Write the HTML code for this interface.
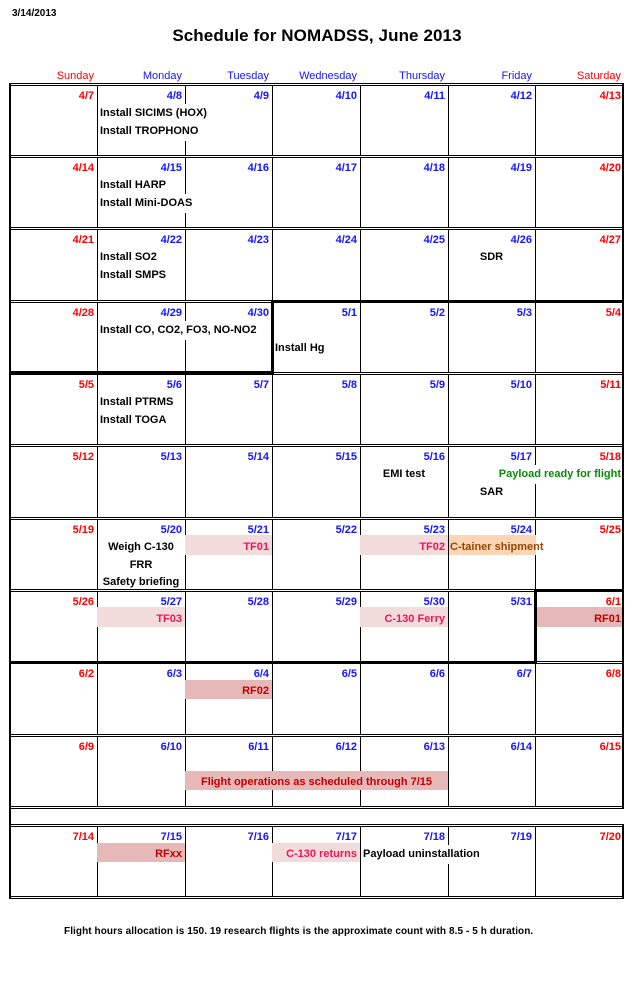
<!DOCTYPE html>
<html><head><meta charset="utf-8">
<style>
html,body{margin:0;padding:0;background:#fff;}
body{width:644px;height:994px;position:relative;overflow:hidden;font-family:"Liberation Sans",Arial,sans-serif;color:#000;}
div{position:absolute;}
.v{width:1px;background:#000;}
.dbl{left:9px;width:614px;height:3px;border-top:1px solid #000;border-bottom:1px solid #000;background:#fff;box-sizing:border-box;}
.k{background:#000;}
.d{font-weight:bold;font-size:11px;white-space:nowrap;line-height:14px;height:14px;text-align:right;}
.h{font-size:11px;line-height:14px;height:14px;text-align:right;top:69px;white-space:nowrap;}
.e{font-weight:bold;font-size:11px;white-space:nowrap;line-height:19px;height:19px;}
.ra{text-align:right;}
.c0{left:9px;width:85px}.c1{left:97px;width:85px}.c2{left:185px;width:84px}.c3{left:272px;width:85px}.c4{left:360px;width:85px}.c5{left:448px;width:84px}.c6{left:535px;width:86px}
.m1{left:97px;width:88px;text-align:center}.m4{left:360px;width:88px;text-align:center}.m5{left:448px;width:87px;text-align:center}
.r{color:#ff0000}.b{color:#1515ff}
.wb{background:#fff;}
.pk{background:#f2dcdb;}.dk{background:#e6b8b7;}.or{background:#fcd5b4;}
.tp{color:#f0145a}.td{color:#c00000}.to{color:#974706}.tg{color:#0a8a0a}
</style></head>
<body>
<!-- header -->
<div style="left:12px;top:8px;font-weight:bold;font-size:10px;line-height:12px;white-space:nowrap;">3/14/2013</div>
<div style="left:0;width:634px;top:26px;text-align:center;font-weight:bold;font-size:17px;line-height:20px;white-space:nowrap;letter-spacing:0.1px;">Schedule for NOMADSS, June 2013</div>

<div class="h c0 r">Sunday</div>
<div class="h c1 b">Monday</div>
<div class="h c2 b">Tuesday</div>
<div class="h c3 b">Wednesday</div>
<div class="h c4 b">Thursday</div>
<div class="h c5 b">Friday</div>
<div class="h c6 r">Saturday</div>

<!-- vertical lines -->
<div class="v" style="left:97px;top:83px;height:723px"></div>
<div class="v" style="left:185px;top:83px;height:723px"></div>
<div class="v" style="left:272px;top:83px;height:723px"></div>
<div class="v" style="left:360px;top:83px;height:723px"></div>
<div class="v" style="left:448px;top:83px;height:723px"></div>
<div class="v" style="left:535px;top:83px;height:723px"></div>
<div class="v" style="left:97px;top:824px;height:73px"></div>
<div class="v" style="left:185px;top:824px;height:73px"></div>
<div class="v" style="left:272px;top:824px;height:73px"></div>
<div class="v" style="left:360px;top:824px;height:73px"></div>
<div class="v" style="left:448px;top:824px;height:73px"></div>
<div class="v" style="left:535px;top:824px;height:73px"></div>

<!-- double horizontal lines -->
<div class="dbl" style="top:83px"></div>
<div class="dbl" style="top:155px"></div>
<div class="dbl" style="top:227px"></div>
<div class="dbl" style="top:300px"></div>
<div class="dbl" style="top:372px"></div>
<div class="dbl" style="top:444px"></div>
<div class="dbl" style="top:517px"></div>
<div class="dbl" style="top:589px"></div>
<div class="dbl" style="top:661px"></div>
<div class="dbl" style="top:734px"></div>
<div class="dbl" style="top:806px"></div>
<div class="dbl" style="top:824px"></div>
<div class="dbl" style="top:896px"></div>

<!-- thick month boundaries -->
<div class="k" style="left:271px;top:300px;width:353px;height:3px"></div>
<div class="k" style="left:9px;top:371px;width:265px;height:4px"></div>
<div class="k" style="left:271px;top:300px;width:3px;height:75px"></div>
<div class="k" style="left:534px;top:589px;width:90px;height:3px"></div>
<div class="k" style="left:9px;top:661px;width:528px;height:3px"></div>
<div class="k" style="left:534px;top:589px;width:3px;height:75px"></div>

<!-- outer borders -->
<div class="k" style="left:9px;top:83px;width:2px;height:816px"></div>
<div class="k" style="left:622px;top:83px;width:2px;height:726px"></div>
<div class="k" style="left:622px;top:824px;width:2px;height:75px"></div>

<!-- bands -->
<div class="pk" style="left:185px;top:535px;width:87px;height:20px"></div>
<div class="pk" style="left:360px;top:535px;width:88px;height:20px"></div>
<div class="or" style="left:449px;top:535px;width:87px;height:20px"></div>
<div class="pk" style="left:97px;top:607px;width:88px;height:20px"></div>
<div class="pk" style="left:360px;top:607px;width:88px;height:20px"></div>
<div class="dk" style="left:537px;top:607px;width:85px;height:20px"></div>
<div class="dk" style="left:185px;top:680px;width:87px;height:19px"></div>
<div class="dk" style="left:185px;top:771px;width:263px;height:19px"></div>
<div class="dk" style="left:97px;top:843px;width:88px;height:19px"></div>
<div class="pk" style="left:272px;top:843px;width:88px;height:19px"></div>

<!-- Row 1 -->
<div class="d c0 r" style="top:89px">4/7</div>
<div class="d c1 b" style="top:89px">4/8</div>
<div class="d c2 b" style="top:89px">4/9</div>
<div class="d c3 b" style="top:89px">4/10</div>
<div class="d c4 b" style="top:89px">4/11</div>
<div class="d c5 b" style="top:89px">4/12</div>
<div class="d c6 r" style="top:89px">4/13</div>
<div class="e wb" style="left:100px;top:104px">Install SICIMS (HOX)</div>
<div class="e wb" style="left:100px;top:122px">Install TROPHONO</div>

<!-- Row 2 -->
<div class="d c0 r" style="top:161px">4/14</div>
<div class="d c1 b" style="top:161px">4/15</div>
<div class="d c2 b" style="top:161px">4/16</div>
<div class="d c3 b" style="top:161px">4/17</div>
<div class="d c4 b" style="top:161px">4/18</div>
<div class="d c5 b" style="top:161px">4/19</div>
<div class="d c6 r" style="top:161px">4/20</div>
<div class="e" style="left:100px;top:176px">Install HARP</div>
<div class="e wb" style="left:100px;top:194px">Install Mini-DOAS</div>

<!-- Row 3 -->
<div class="d c0 r" style="top:233px">4/21</div>
<div class="d c1 b" style="top:233px">4/22</div>
<div class="d c2 b" style="top:233px">4/23</div>
<div class="d c3 b" style="top:233px">4/24</div>
<div class="d c4 b" style="top:233px">4/25</div>
<div class="d c5 b" style="top:233px">4/26</div>
<div class="d c6 r" style="top:233px">4/27</div>
<div class="e" style="left:100px;top:248px">Install SO2</div>
<div class="e" style="left:100px;top:266px">Install SMPS</div>
<div class="e m5" style="top:248px">SDR</div>

<!-- Row 4 -->
<div class="d c0 r" style="top:306px">4/28</div>
<div class="d c1 b" style="top:306px">4/29</div>
<div class="d c2 b" style="top:306px">4/30</div>
<div class="d c3 b" style="top:306px">5/1</div>
<div class="d c4 b" style="top:306px">5/2</div>
<div class="d c5 b" style="top:306px">5/3</div>
<div class="d c6 r" style="top:306px">5/4</div>
<div class="e wb" style="left:100px;top:321px">Install CO, CO2, FO3, NO-NO2</div>
<div class="e" style="left:275px;top:339px">Install Hg</div>

<!-- Row 5 -->
<div class="d c0 r" style="top:378px">5/5</div>
<div class="d c1 b" style="top:378px">5/6</div>
<div class="d c2 b" style="top:378px">5/7</div>
<div class="d c3 b" style="top:378px">5/8</div>
<div class="d c4 b" style="top:378px">5/9</div>
<div class="d c5 b" style="top:378px">5/10</div>
<div class="d c6 r" style="top:378px">5/11</div>
<div class="e" style="left:100px;top:393px">Install PTRMS</div>
<div class="e" style="left:100px;top:411px">Install TOGA</div>

<!-- Row 6 -->
<div class="d c0 r" style="top:450px">5/12</div>
<div class="d c1 b" style="top:450px">5/13</div>
<div class="d c2 b" style="top:450px">5/14</div>
<div class="d c3 b" style="top:450px">5/15</div>
<div class="d c4 b" style="top:450px">5/16</div>
<div class="d c5 b" style="top:450px">5/17</div>
<div class="d c6 r" style="top:450px">5/18</div>
<div class="e m4" style="top:465px">EMI test</div>
<div class="e wb tg" style="right:23px;top:465px">Payload ready for flight</div>
<div class="e m5" style="top:483px">SAR</div>

<!-- Row 7 -->
<div class="d c0 r" style="top:523px">5/19</div>
<div class="d c1 b" style="top:523px">5/20</div>
<div class="d c2 b" style="top:523px">5/21</div>
<div class="d c3 b" style="top:523px">5/22</div>
<div class="d c4 b" style="top:523px">5/23</div>
<div class="d c5 b" style="top:523px">5/24</div>
<div class="d c6 r" style="top:523px">5/25</div>
<div class="e m1" style="top:538px">Weigh C-130</div>
<div class="e m1" style="top:556px">FRR</div>
<div class="e m1" style="top:573px">Safety briefing</div>
<div class="e c2 ra tp" style="top:538px">TF01</div>
<div class="e c4 ra tp" style="top:538px">TF02</div>
<div class="e to" style="left:450px;top:538px">C-tainer shipment</div>

<!-- Row 8 -->
<div class="d c0 r" style="top:595px">5/26</div>
<div class="d c1 b" style="top:595px">5/27</div>
<div class="d c2 b" style="top:595px">5/28</div>
<div class="d c3 b" style="top:595px">5/29</div>
<div class="d c4 b" style="top:595px">5/30</div>
<div class="d c5 b" style="top:595px">5/31</div>
<div class="d c6 r" style="top:595px">6/1</div>
<div class="e c1 ra tp" style="top:610px">TF03</div>
<div class="e c4 ra tp" style="top:610px">C-130 Ferry</div>
<div class="e c6 ra td" style="top:610px">RF01</div>

<!-- Row 9 -->
<div class="d c0 r" style="top:667px">6/2</div>
<div class="d c1 b" style="top:667px">6/3</div>
<div class="d c2 b" style="top:667px">6/4</div>
<div class="d c3 b" style="top:667px">6/5</div>
<div class="d c4 b" style="top:667px">6/6</div>
<div class="d c5 b" style="top:667px">6/7</div>
<div class="d c6 r" style="top:667px">6/8</div>
<div class="e c2 ra td" style="top:682px">RF02</div>

<!-- Row 10 -->
<div class="d c0 r" style="top:740px">6/9</div>
<div class="d c1 b" style="top:740px">6/10</div>
<div class="d c2 b" style="top:740px">6/11</div>
<div class="d c3 b" style="top:740px">6/12</div>
<div class="d c4 b" style="top:740px">6/13</div>
<div class="d c5 b" style="top:740px">6/14</div>
<div class="d c6 r" style="top:740px">6/15</div>
<div class="e td" style="left:185px;width:263px;text-align:center;top:773px">Flight operations as scheduled through 7/15</div>

<!-- Row 11 -->
<div class="d c0 r" style="top:830px">7/14</div>
<div class="d c1 b" style="top:830px">7/15</div>
<div class="d c2 b" style="top:830px">7/16</div>
<div class="d c3 b" style="top:830px">7/17</div>
<div class="d c4 b" style="top:830px">7/18</div>
<div class="d c5 b" style="top:830px">7/19</div>
<div class="d c6 r" style="top:830px">7/20</div>
<div class="e c1 ra td" style="top:845px">RFxx</div>
<div class="e c3 ra tp" style="top:845px">C-130 returns</div>
<div class="e wb" style="left:363px;top:845px">Payload uninstallation</div>

<!-- footer -->
<div style="left:64px;top:926px;font-weight:bold;font-size:10px;line-height:12px;white-space:nowrap;letter-spacing:0.08px;">Flight hours allocation is 150. 19 research flights is the approximate count with 8.5 - 5 h duration.</div>
</body></html>
